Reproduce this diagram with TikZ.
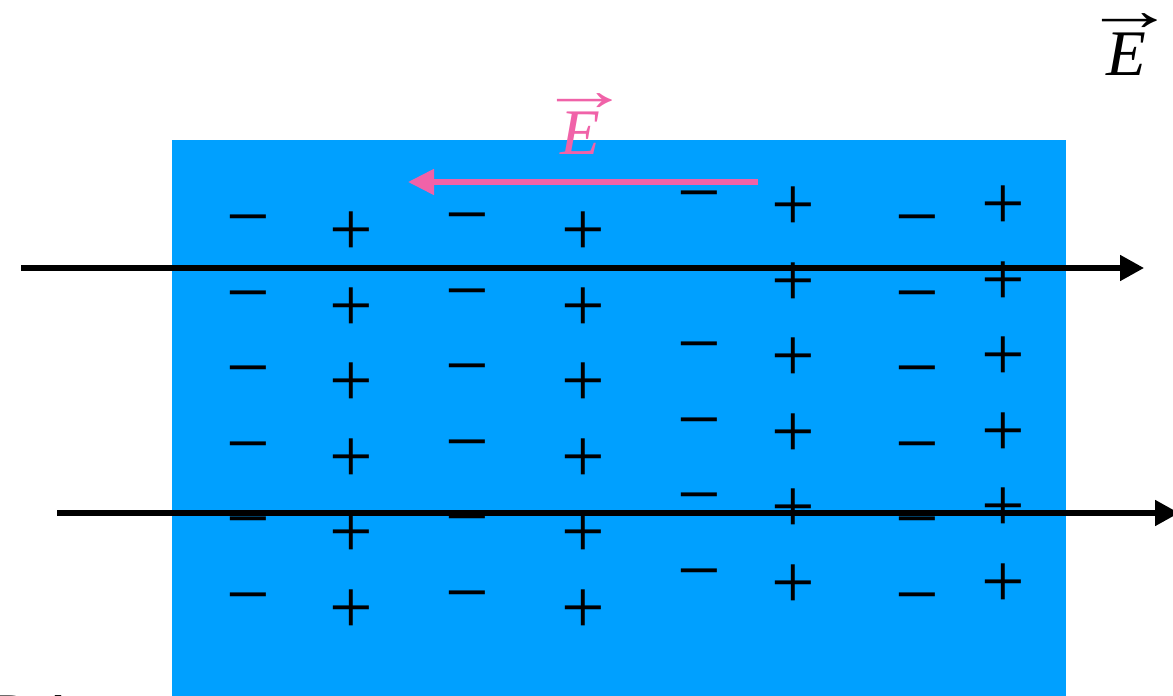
\documentclass[tikz,border=0pt]{standalone}
\usepackage{amsmath}
\usepackage{graphicx}
\usepackage{fontspec}
\setmainfont{Liberation Serif}
\usetikzlibrary{arrows.meta}

\definecolor{slabblue}{RGB}{0,160,255}
\definecolor{fieldpink}{RGB}{240,98,168}

\tikzset{
  charge/.style={inner sep=0pt, font=\fontsize{44}{44}\selectfont},
  fieldarrow/.style={line width=2.85pt, -{Triangle[length=0.48cm,width=0.5cm]}},
  label/.style={inner sep=0pt, anchor=base, font=\fontsize{37}{40}\selectfont\itshape},
  vecsign/.style={inner sep=0pt, font=\fontsize{34}{34}\selectfont}
}
\newcommand{\longvec}{\scalebox{1.55}[1]{→}}

\begin{document}
\begin{tikzpicture}[scale=1]
  \useasboundingbox (0,0) rectangle (23.46,13.9);
  \fill[slabblue] (3.44,-0.2) rectangle (21.32,11.1);

  % charges in the slab
  \foreach \i in {0,...,5} {
    \node[charge] (mA\i) at (4.96,9.32-1.51*\i) {−};
    \node[charge] (pA\i) at (7.02,9.22-1.51*\i) {+};
    \node[charge] (mB\i) at (9.34,9.36-1.51*\i) {−};
    \node[charge] (pB\i) at (11.66,9.22-1.51*\i) {+};
    \node[charge] (mC\i) at (13.98,9.80-1.51*\i) {−};
    \node[charge] (pC\i) at (15.86,9.72-1.51*\i) {+};
    \node[charge] (mD\i) at (18.34,9.32-1.51*\i) {−};
    \node[charge] (pD\i) at (20.06,9.74-1.51*\i) {+};
  }

  % internal field
  \coordinate (inS) at (15.16,10.26);
  \coordinate (inE) at (8.16,10.26);
  \draw[fieldpink, line width=2.85pt, -{Triangle[length=0.52cm,width=0.5cm]}] (inS) -- (inE);
  \node[label, text=fieldpink] (Ein) at (11.6,10.8) {E};
  \node[vecsign, text=fieldpink] (Einvec) at (11.7,11.86) {\longvec};

  % applied field
  \coordinate (topS) at (0.42,8.54);
  \coordinate (topE) at (22.88,8.54);
  \draw[fieldarrow] (topS) -- (topE);
  \coordinate (botS) at (1.14,3.64);
  \coordinate (botE) at (23.58,3.64);
  \draw[fieldarrow] (botS) -- (botE);
  \node[label] (Eout) at (22.52,12.4) {E};
  \node[vecsign] (Eoutvec) at (22.6,13.46) {\longvec};

  \node[inner sep=0pt, font=\fontsize{37}{40}\selectfont, anchor=north west] (cut) at (-0.23,0.0) {DA};
\end{tikzpicture}
\end{document}
